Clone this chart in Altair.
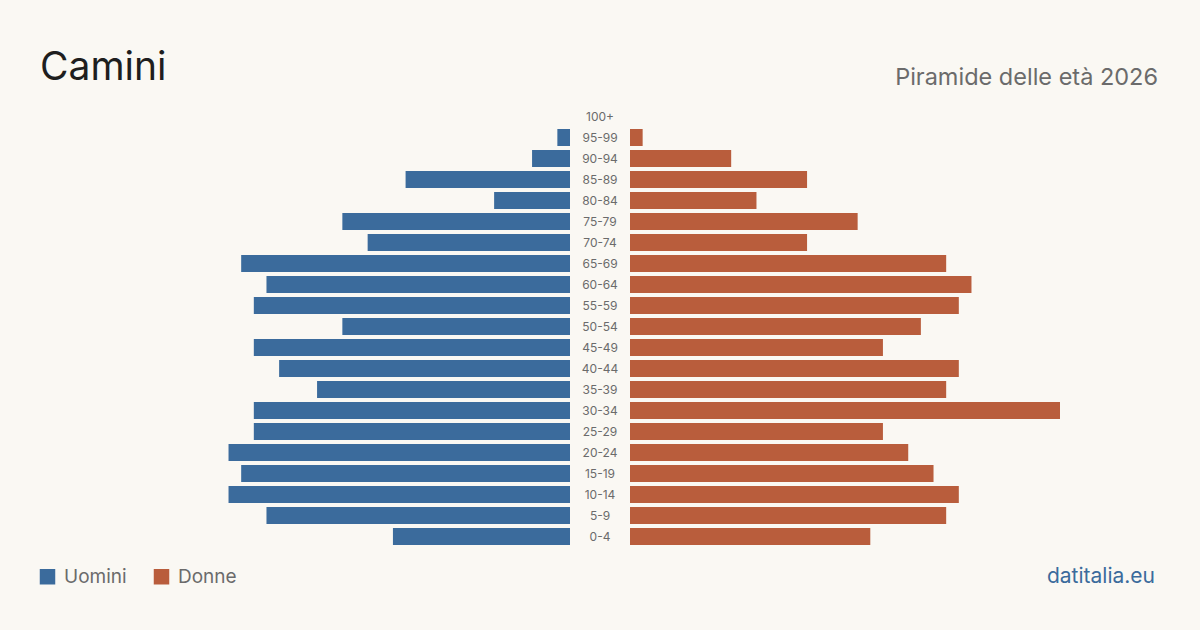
import altair as alt
import pandas as pd

# Popolazione per classe di età e sesso
eta = ["100+", "95-99", "90-94", "85-89", "80-84", "75-79", "70-74", "65-69",
       "60-64", "55-59", "50-54", "45-49", "40-44", "35-39", "30-34", "25-29",
       "20-24", "15-19", "10-14", "5-9", "0-4"]
uomini = [0, 1, 3, 13, 6, 18, 16, 26, 24, 25, 18, 25, 23, 20, 25, 25, 27, 26, 27, 24, 14]
donne = [0, 1, 8, 14, 10, 18, 14, 25, 27, 26, 23, 20, 26, 25, 34, 20, 22, 24, 26, 25, 19]

BLU = "#3b6b9c"
ROSSO = "#b95d3c"
GRIGIO = "#6b6b6b"
SFONDO = "#faf8f3"
FONT = "Inter"

df_u = pd.DataFrame({"eta": eta, "valore": uomini, "sesso": "Uomini"})
df_d = pd.DataFrame({"eta": eta, "valore": donne, "sesso": "Donne"})
df_lab = pd.DataFrame({"eta": eta})

W_SIDE = 430
W_MID = 60
W = 2 * W_SIDE + W_MID
H = 441
XMAX = 34

y_enc = alt.Y("eta:N", sort=eta, axis=None,
              scale=alt.Scale(paddingInner=0.19, paddingOuter=0.095))

colore = alt.Color(
    "sesso:N",
    scale=alt.Scale(domain=["Uomini", "Donne"], range=[BLU, ROSSO]),
    legend=alt.Legend(
        orient="none", legendX=-102, legendY=461, direction="horizontal",
        title=None, symbolType="square", symbolSize=240, symbolStrokeWidth=0,
        symbolOpacity=1, labelFontSize=19, labelColor=GRIGIO, labelFont=FONT,
        columnPadding=25, symbolOffset=0, labelOffset=7,
    ),
)

# Uomini: barre verso sinistra, lo zero sta al bordo destro del pannello sinistro
uomini_barre = alt.Chart(df_u).mark_bar().encode(
    x=alt.X("valore:Q", scale=alt.Scale(domain=[0, XMAX], range=[W_SIDE, 0]), axis=None),
    y=y_enc,
    color=colore,
)

# Donne: barre verso destra, dopo la colonna delle etichette
donne_barre = alt.Chart(df_d).mark_bar().encode(
    x=alt.X("valore:Q", scale=alt.Scale(domain=[0, XMAX], range=[W_SIDE + W_MID, W]), axis=None),
    y=y_enc,
    color=colore,
)

etichette = alt.Chart(df_lab).mark_text(
    fontSize=12, font=FONT, color=GRIGIO, align="center", baseline="middle"
).encode(
    y=y_enc,
    x=alt.value(W_SIDE + W_MID / 2),
    text="eta:N",
)

titolo = alt.Chart(pd.DataFrame({"t": ["Camini"]})).mark_text(
    align="left", baseline="alphabetic", fontSize=39, font=FONT, color="#1e1e1e"
).encode(x=alt.value(-100), y=alt.value(-26), text="t:N")

sottotitolo = alt.Chart(pd.DataFrame({"t": ["Piramide delle età 2026"]})).mark_text(
    align="right", baseline="alphabetic", fontSize=23.5, font=FONT, color=GRIGIO
).encode(x=alt.value(W + 98), y=alt.value(-21), text="t:N")

fonte = alt.Chart(pd.DataFrame({"t": ["datitalia.eu"]})).mark_text(
    align="right", baseline="alphabetic", fontSize=21, font=FONT, color=BLU
).encode(x=alt.value(W + 95), y=alt.value(H + 36), text="t:N")

chart = alt.layer(
    uomini_barre, donne_barre, etichette, titolo, sottotitolo, fonte
).resolve_scale(x="independent").properties(
    width=W,
    height=H,
    background=SFONDO,
    padding={"left": 140, "top": 106, "right": 140, "bottom": 83},
    autosize=alt.AutoSizeParams(type="none"),
).configure_view(strokeWidth=0)

chart.save("out.html", embed_options={"renderer": "svg", "actions": False})
